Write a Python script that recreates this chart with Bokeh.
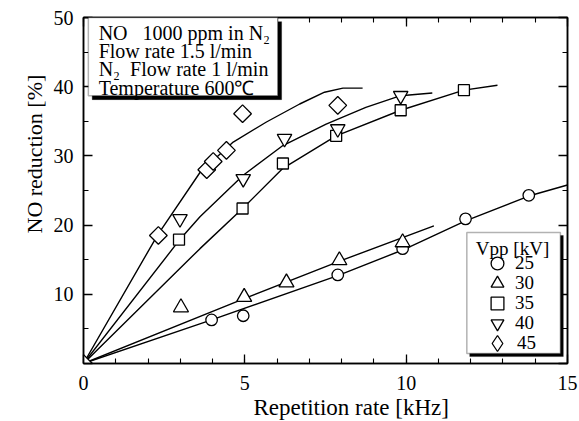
import numpy as np
from bokeh.plotting import figure
from bokeh.models import (LinearAxis, Range1d, Label, BoxAnnotation, Legend, LegendItem,
                          SingleIntervalTicker, CustomJSTickFormatter, Title)
from bokeh.embed import file_html
from bokeh.resources import INLINE

# ---------------- data ----------------
# measured points, Vpp = 25, 30, 35, 40, 45 kV
x25 = [0.0, 3.97, 4.95, 7.88, 9.89, 11.84, 13.8]
y25 = [0.0, 6.3, 6.9, 12.8, 16.6, 20.9, 24.3]
x30 = [3.02, 4.98, 6.29, 7.93, 9.89]
y30 = [8.1, 9.6, 11.7, 14.9, 17.5]
x35 = [2.96, 4.93, 6.18, 7.83, 9.83, 11.79]
y35 = [17.9, 22.4, 28.9, 32.9, 36.6, 39.5]
x40 = [2.99, 4.95, 6.23, 7.88, 9.83]
y40 = [20.9, 26.7, 32.5, 33.9, 38.7]
x45 = [0.0, 2.32, 3.82, 4.02, 4.43, 4.93, 7.88]
y45 = [0.0, 18.5, 28.0, 29.2, 30.8, 36.1, 37.3]

# hand-drawn trend curves
c25x = [0, 3.97, 7.88, 9.89, 11.84, 13.8, 15.0]
c25y = [0, 6.3, 12.7, 16.4, 20.6, 24.2, 25.8]
c30x = [0, 5.0, 8.0, 10.86]
c30y = [0, 9.4, 14.9, 19.9]
c35x = [0, 3.61, 4.93, 6.18, 7.83, 9.83, 11.79, 12.83]
c35y = [0, 16.6, 22.4, 28.2, 32.9, 36.6, 39.5, 40.2]
c40x = [0, 3.0, 3.61, 4.95, 6.18, 7.52, 8.75, 9.83, 10.81]
c40y = [0, 18.0, 21.2, 27.2, 31.5, 34.6, 37.0, 38.7, 39.1]
c45x = [0, 2.3, 3.61, 4.64, 5.67, 6.70, 7.47, 8.04, 8.65]
c45y = [0, 18.6, 27.6, 32.0, 34.9, 37.5, 39.2, 39.8, 39.8]

legend_labels = ["25", "30", "35", "40", "45"]
NB = "\u00a0"
info_lines = ["NO" + NB * 3 + "1000 ppm in N\u2082", "Flow rate 1.5 l/min",
              "N\u2082" + NB * 2 + "Flow rate 1 l/min", "Temperature 600\u2103"]
x_title = "Repetition rate [kHz]"
y_title = "NO reduction [%]"

FONT = "Liberation Serif"

p = figure(frame_width=484, frame_height=346, x_range=Range1d(0, 15), y_range=Range1d(0, 50),
           output_backend="svg", toolbar_location=None,
           min_border_left=83, min_border_right=12, min_border_top=17, min_border_bottom=58,
           background_fill_color="white", border_fill_color="white")
p.xgrid.visible = False
p.ygrid.visible = False
p.outline_line_color = "black"
p.outline_line_width = 1.5

p.xaxis.ticker = SingleIntervalTicker(interval=5, num_minor_ticks=5)
p.yaxis.ticker = SingleIntervalTicker(interval=10, num_minor_ticks=2)

def style_axis(ax):
    ax.major_tick_in = 9
    ax.major_tick_out = 0
    ax.minor_tick_in = 5
    ax.minor_tick_out = 0
    ax.axis_line_width = 1.5
    ax.major_tick_line_width = 1.3
    ax.minor_tick_line_width = 1.1
    ax.axis_line_color = "black"
    ax.major_tick_line_color = "black"
    ax.minor_tick_line_color = "black"
    ax.major_label_text_font = FONT
    ax.major_label_text_font_size = "20px"
    ax.major_label_text_color = "black"

for ax in (p.xaxis[0], p.yaxis[0]):
    style_axis(ax)
p.xaxis.major_label_standoff = 12
p.yaxis.major_label_standoff = 10
p.yaxis.major_label_overrides = {0: ""}

rax = LinearAxis(ticker=SingleIntervalTicker(interval=10, num_minor_ticks=2))
tax = LinearAxis(ticker=SingleIntervalTicker(interval=5, num_minor_ticks=5))
for ax in (rax, tax):
    style_axis(ax)
    ax.formatter = CustomJSTickFormatter(code="return ''")
    ax.major_label_text_font_size = "1px"
    ax.major_label_standoff = 0
p.add_layout(rax, "right")
p.add_layout(tax, "above")

# axis titles (as side titles so they can be placed along the axis)
p.add_layout(Title(text=y_title, align="left", offset=130, standoff=8,
                   text_font=FONT, text_font_size="22px", text_font_style="normal",
                   text_color="black"), "left")
p.add_layout(Title(text=x_title, align="left", offset=170, standoff=0,
                   text_font=FONT, text_font_size="23px", text_font_style="normal",
                   text_color="black"), "below")

# curves
for cx, cy in ((c25x, c25y), (c30x, c30y), (c35x, c35y), (c40x, c40y), (c45x, c45y)):
    p.line(cx, cy, line_color="black", line_width=1.4)

# markers
mk = dict(fill_color="white", line_color="black", line_width=1.3)
# diamond-shaped key for the legend (hidden underneath the rotated squares)
r45key = p.scatter(x45, y45, marker="diamond", size=9, **mk)
r25 = p.scatter(x25, y25, marker="circle", size=11.5, **mk)
r30 = p.scatter(x30, y30, marker="triangle", size=15, **mk)
r35 = p.scatter(x35, y35, marker="square", size=11, **mk)
r40 = p.scatter(x40, y40, marker="inverted_triangle", size=14.5, **mk)
r45 = p.scatter(x45, y45, marker="square", size=12.5, angle=np.pi / 4, **mk)

# info box (top left) with shadow
p.add_layout(BoxAnnotation(left=0.27, right=6.14, bottom=38.13, top=49.4,
                           fill_color="black", fill_alpha=1, line_color="black", line_width=1))
p.add_layout(BoxAnnotation(left=0.15, right=6.02, bottom=38.7, top=50,
                           fill_color="white", fill_alpha=1, line_color="black", line_width=1.5))
ys = [47.83, 45.23, 42.63, 39.74]
for t, yy in zip(info_lines, ys):
    p.add_layout(Label(x=0.47, y=yy, text=t, text_font=FONT, text_font_size="20px",
                       text_color="black", text_baseline="alphabetic", text_align="left"))

# legend box with shadow
p.add_layout(BoxAnnotation(left=11.97, right=14.87, bottom=1.0, top=18.5,
                           fill_color="black", fill_alpha=1, line_color="black", line_width=1))
p.add_layout(BoxAnnotation(left=11.88, right=14.78, bottom=1.45, top=18.93,
                           fill_color="white", fill_alpha=1, line_color="black", line_width=1.5))
p.add_layout(Label(x=12.16, y=16.6, text="Vpp [kV]", text_font=FONT, text_font_size="19px",
                   text_color="black", text_baseline="middle", text_align="left"))

leg_style = dict(orientation="vertical", padding=0, margin=0, label_height=20,
                 label_text_font=FONT, label_text_font_size="19px", label_text_color="black",
                 border_line_color=None, background_fill_alpha=0)
legA = Legend(items=[LegendItem(label=legend_labels[0], renderers=[r25]),
                     LegendItem(label=legend_labels[2], renderers=[r35])],
              location=(398, 44), glyph_width=32, glyph_height=32, spacing=8,
              label_standoff=2, **leg_style)
legB = Legend(items=[LegendItem(label=legend_labels[1], renderers=[r30]),
                     LegendItem(label=legend_labels[3], renderers=[r40])],
              location=(398, 24), glyph_width=32, glyph_height=32, spacing=8,
              label_standoff=2, **leg_style)
legC = Legend(items=[LegendItem(label=legend_labels[4], renderers=[r45key])],
              location=(394, 0), glyph_width=40, glyph_height=40, spacing=0,
              label_standoff=0, **leg_style)
for lg in (legA, legB, legC):
    p.add_layout(lg)

open("out.html", "w").write(file_html(p, INLINE))
